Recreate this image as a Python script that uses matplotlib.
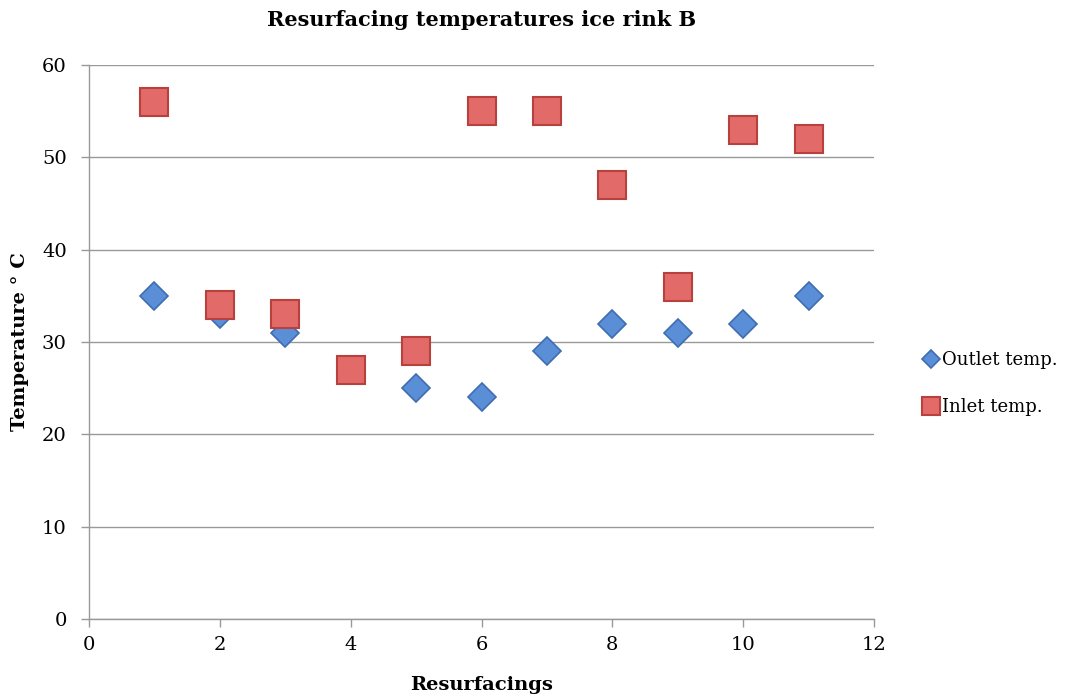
import matplotlib
matplotlib.use("Agg")
import matplotlib.pyplot as plt

resurfacings = [1, 2, 3, 4, 5, 6, 7, 8, 9, 10, 11]
outlet_temp = [35, 33, 31, 27, 25, 24, 29, 32, 31, 32, 35]
inlet_temp = [56, 34, 33, 27, 29, 55, 55, 47, 36, 53, 52]

plt.rcParams['font.family'] = ['DejaVu Serif']

fig = plt.figure(figsize=(10.78, 6.99), dpi=100)
ax = fig.add_axes([0.0826, 0.1145, 0.7282, 0.7925])

ax.plot(resurfacings, outlet_temp, linestyle='none', marker='D', markersize=14,
        markerfacecolor='#5A8FD8', markeredgecolor='#3D6DB2', markeredgewidth=1.2,
        label='Outlet temp.', zorder=3)
ax.plot(resurfacings, inlet_temp, linestyle='none', marker='s', markersize=20,
        markerfacecolor='#E26A68', markeredgecolor='#B8403D', markeredgewidth=1.5,
        label='Inlet temp.', zorder=4)

ax.set_xlim(0, 12)
ax.set_ylim(0, 60)
ax.set_xticks(range(0, 13, 2))
ax.set_yticks(range(0, 61, 10))
ax.yaxis.grid(True, color='#999999', linewidth=1.0)
ax.set_axisbelow(True)
for s in ['top', 'right']:
    ax.spines[s].set_visible(False)
for s in ['left', 'bottom']:
    ax.spines[s].set_color('#999999')
    ax.spines[s].set_linewidth(1.0)
ax.tick_params(axis='both', direction='out', color='#999999', length=6, width=1,
               labelsize=14, pad=6)
ax.tick_params(axis='y', pad=10)

ax.set_title('Resurfacing temperatures ice rink B', fontsize=15, fontweight='bold', pad=28)
ax.set_xlabel('Resurfacings', fontsize=14, fontweight='bold', labelpad=16)
ax.set_ylabel('Temperature ° C', fontsize=14, fontweight='bold', labelpad=9)

leg = ax.legend(loc='center left', bbox_to_anchor=(1.04, 0.425), frameon=False,
                fontsize=13, handletextpad=0.1, labelspacing=1.6, markerscale=0.65,
                handlelength=1.0)

fig.savefig('out.png', dpi=100)
